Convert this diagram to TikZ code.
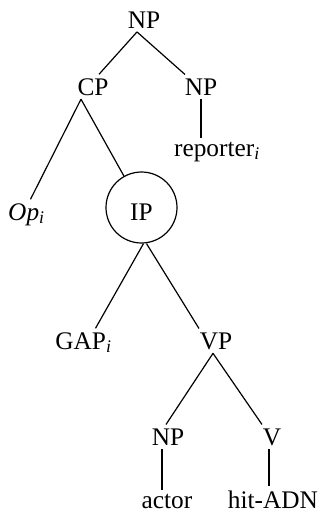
\documentclass[tikz,border=0pt]{standalone}
\usepackage{fontspec}
\setmainfont{Liberation Serif}
\usetikzlibrary{calc}
\tikzset{every picture/.style={line width=0.9pt}}
\tikzset{cat/.style={anchor=base,inner sep=2.5pt,font=\fontsize{19}{22}\selectfont}}

\begin{document}
\begin{tikzpicture}[x=0.75pt,y=0.75pt,yscale=-1,xscale=1]
\useasboundingbox (0,0) rectangle (321,512);

% Text Node
\node [cat] (nptop) at (144,28) {NP};
% Text Node
\node [cat] (cp) at (93,95) {CP};
% Text Node
\node [cat] (npr) at (201,95) {NP};
% Text Node
\node [cat] (reporter) at (217,156) {reporter\textsubscript{\textit{i}}};
% Text Node
\node [cat] (op) at (26.5,220) {\textit{Op}\textsubscript{\textit{i}}};
%Shape: Circle
\node [cat,draw,circle,anchor=center,minimum size=53.25pt,text height=19pt,text depth=0pt] (ip) at (141.5,207.5) {IP};
% Text Node
\node [cat] (gap) at (83.5,349) {GAP\textsubscript{\textit{i}}};
% Text Node
\node [cat] (vp) at (216,349) {VP};
% Text Node
\node [cat] (npo) at (168,445) {NP};
% Text Node
\node [cat] (v) at (272,445) {V};
% Text Node
\node [cat] (actor) at (167,508) {actor};
% Text Node
\node [cat] (hit) at (273,508) {hit-ADN};

%Straight Lines
\draw ($(nptop.south)+(-7,0)$) -- ($(cp.north)+(6,0)$);
%Straight Lines
\draw ($(nptop.south)+(-7,0)$) -- ($(npr.north)+(-16,0)$);
%Straight Lines
\draw ($(cp.south)+(-12,0)$) -- ($(op.north)+(4,0)$);
%Straight Lines
\draw ($(cp.south)+(-12,0)$) -- (ip);
%Straight Lines
\draw (npr.south) -- (npr.south |- reporter.north);
%Straight Lines
\draw ($(ip.south)+(2,0)$) -- ($(gap.north)+(12,0)$);
%Straight Lines
\draw ($(ip.south)+(5,0)$) -- ($(vp.north)+(-17,0)$);
%Straight Lines
\draw ($(vp.south)+(-3,0)$) -- ($(npo.north)+(-2,0)$);
%Straight Lines
\draw ($(vp.south)+(-3,0)$) -- ($(v.north)+(-10,0)$);
%Straight Lines
\draw ($(npo.south)+(-6,0)$) -- ($(npo.south |- actor.north)+(-6,0)$);
%Straight Lines
\draw ($(v.south)+(-3,0)$) -- ($(v.south |- hit.north)+(-3,0)$);

\end{tikzpicture}
\end{document}
